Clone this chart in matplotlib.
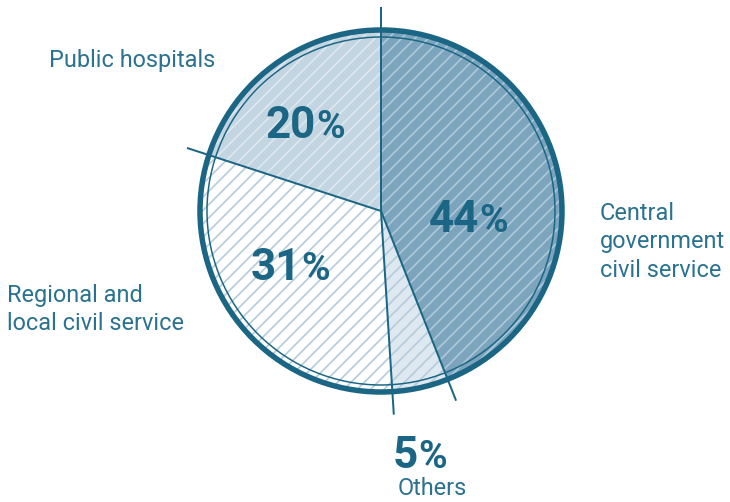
import numpy as np
import matplotlib
matplotlib.use("Agg")
import matplotlib.pyplot as plt
from matplotlib.patches import Circle

# workforce shares, clockwise from 12 o'clock
sectors = ["Central government civil service", "Others",
           "Regional and local civil service", "Public hospitals"]
shares = [44, 5, 31, 20]
pct_labels = ["44", "5", "31", "20"]

fill_colors = ["#7ca4bd", "#dee8f0", "#ffffff", "#c4d5e2"]
hatch_colors = ["#adc8d9", "#b7ccdb", "#b7ccdb", "#dde7ef"]

W, H, DPI = 730, 502, 120
PX = 72 / DPI  # points per pixel

dark = "#1b6684"
label_col = "#2a7290"
plt.rcParams["font.family"] = ["Roboto", "DejaVu Sans"]
plt.rcParams["hatch.linewidth"] = 1.7 * PX

fig = plt.figure(figsize=(W / DPI, H / DPI), dpi=DPI)
ax = fig.add_axes([0, 0, 1, 1])

cx, cy = 381, H - 211
R = 181

# solid fills, then the hatch layer on top
ax.pie(shares, startangle=90, counterclock=False, center=(cx, cy), radius=R,
       colors=fill_colors, wedgeprops=dict(linewidth=0))
wedges, _ = ax.pie(shares, startangle=90, counterclock=False, center=(cx, cy),
                   radius=R, colors=["none"] * 4, hatch="///",
                   wedgeprops=dict(linewidth=0))
for w, hc in zip(wedges, hatch_colors):
    w.set_edgecolor(hc)

# double outline
ax.add_patch(Circle((cx, cy), R, fill=False, lw=5.5 * PX, ec=dark))
ax.add_patch(Circle((cx, cy), 174, fill=False, lw=1.5 * PX, ec=dark))

# boundary lines running out past the ring
bounds = np.cumsum([0] + shares[:-1]) / sum(shares)
for f in bounds:
    a = np.deg2rad(90 - 360 * f)
    ax.plot([cx, cx + 204 * np.cos(a)], [cy, cy + 204 * np.sin(a)],
            color=dark, lw=2 * PX, solid_capstyle="butt")


def lines(x, y0, txt, step):
    for i, s in enumerate(txt.split("\n")):
        ax.text(x, H - (y0 + i * step), s, fontsize=23.5 * PX, color=label_col,
                ha="left", va="baseline")


def pct(xsplit, y, num):
    ax.text(xsplit, H - y, num, fontsize=44 * PX, fontweight="bold",
            color=dark, ha="right", va="baseline")
    ax.text(xsplit, H - y, "%", fontsize=39 * PX, fontweight="bold",
            color=dark, ha="left", va="baseline")


pct(479, 232, pct_labels[0])
pct(418, 468, pct_labels[1])
pct(301, 280, pct_labels[2])
pct(316, 138, pct_labels[3])

lines(600, 220, "Central\ngovernment\ncivil service", 28.3)
lines(398, 495, "Others", 28)
lines(7, 302, "Regional and\nlocal civil service", 27.7)
lines(49, 67, "Public hospitals", 28)

ax.set_xlim(0, W)
ax.set_ylim(0, H)
ax.set_aspect("equal")
ax.axis("off")
fig.savefig("out.png", dpi=DPI)
